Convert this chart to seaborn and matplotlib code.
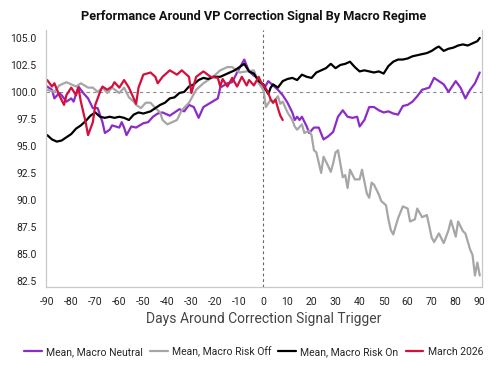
import pandas as pd
import seaborn as sns
import matplotlib.pyplot as plt

# Data (days around signal, index level)
neutral_days = [-90, -88, -87, -85, -84, -82, -80, -79, -77, -75, -73, -71, -69, -67, -66, -64, -63,
                -60, -59, -58, -57, -55, -53, -50, -48, -46, -44, -42, -39, -37, -35, -33, -31, -29,
                -27, -25, -22, -19, -18, -15, -13, -11, -8, -6, -4, -3, -1, 0, 1, 2, 4, 6, 8, 10, 12,
                13, 14, 15, 16, 18, 19, 21, 23, 25, 27, 29, 31, 33, 35, 37, 39, 40, 42, 44, 46, 48,
                50, 52, 54, 56, 58, 60, 62, 64, 66, 69, 71, 73, 75, 77, 80, 82, 84, 86, 88, 90]
neutral_vals = [100.5, 100.2, 99.4, 99.9, 99.7, 99.1, 99.4, 99.1, 100.5, 99.9, 99.4, 98.5, 98.5, 97.2,
                96.2, 96.5, 96.9, 96.7, 97.2, 96.7, 96.0, 96.8, 96.7, 97.1, 97.2, 97.7, 98.0, 98.1,
                97.8, 98.1, 98.4, 98.2, 98.8, 98.6, 97.6, 98.6, 99.0, 99.4, 100.4, 100.8, 100.9,
                101.8, 103.0, 101.9, 101.5, 101.4, 100.6, 100.2, 100.6, 101.0, 100.6, 100.2, 99.7,
                99.0, 98.1, 97.4, 97.7, 97.4, 97.7, 96.8, 96.2, 96.7, 96.7, 95.6, 95.9, 96.3, 97.7,
                98.3, 97.7, 97.6, 97.7, 96.8, 97.4, 98.6, 98.6, 98.3, 98.1, 98.2, 98.0, 97.9, 98.7,
                98.8, 99.1, 99.6, 100.2, 100.4, 101.3, 101.0, 100.7, 100.0, 101.0, 100.4, 99.4,
                100.2, 100.8, 101.8]

riskoff_days = [-90, -87, -85, -82, -80, -78, -76, -73, -71, -69, -67, -65, -63, -60, -58, -56, -54,
                -53, -51, -49, -47, -45, -43, -42, -40, -36, -34, -31, -28, -25, -21, -18, -15, -13,
                -10, -7, -4, -2, 0, 1, 3, 4, 6, 7, 8, 10, 12, 13, 14, 16, 17, 19, 20, 21, 22, 24, 25,
                27, 28, 29, 30, 31, 33, 34, 35, 36, 38, 40, 41, 43, 44, 45, 46, 48, 49, 51, 52, 53,
                54, 56, 58, 60, 61, 63, 64, 66, 68, 70, 71, 73, 75, 77, 78, 80, 81, 83, 84, 86, 87,
                88, 89, 90]
riskoff_vals = [100.2, 100.0, 100.6, 100.9, 100.7, 100.5, 100.8, 100.4, 100.4, 100.0, 100.4, 99.9,
                100.4, 99.9, 100.4, 99.5, 99.1, 98.8, 98.5, 99.0, 99.0, 98.5, 98.1, 97.4, 97.0, 97.4,
                98.3, 99.0, 100.2, 100.8, 101.4, 102.0, 102.3, 102.3, 101.8, 101.9, 102.0, 100.8,
                100.2, 98.6, 99.3, 99.0, 99.6, 98.9, 99.1, 98.1, 97.4, 96.8, 96.5, 97.0, 96.2, 96.4,
                96.0, 94.6, 94.4, 92.5, 94.0, 93.1, 92.6, 93.4, 94.4, 94.6, 92.1, 92.3, 91.1, 92.8,
                91.9, 91.9, 92.8, 90.6, 90.2, 91.6, 91.4, 90.5, 89.9, 89.5, 88.2, 87.2, 86.8, 88.3,
                89.4, 89.2, 88.0, 88.2, 89.2, 88.4, 88.6, 86.5, 86.1, 86.9, 86.0, 87.2, 88.1, 86.6,
                88.0, 87.1, 86.9, 85.4, 84.9, 83.0, 84.2, 83.0]

riskon_days = [-90, -88, -86, -84, -82, -80, -78, -76, -74, -72, -70, -68, -66, -64, -62, -60, -58,
               -56, -54, -52, -50, -47, -45, -43, -41, -39, -37, -35, -33, -31, -29, -27, -25, -23,
               -21, -18, -16, -14, -12, -10, -8, -6, -4, -2, 0, 1, 2, 3, 4, 6, 8, 10, 12, 14, 16, 18,
               20, 22, 24, 26, 28, 30, 32, 34, 36, 38, 40, 42, 44, 46, 48, 50, 52, 54, 56, 58, 60, 62,
               64, 66, 68, 70, 72, 73, 75, 77, 79, 81, 83, 85, 87, 89, 90]
riskon_vals = [96.0, 95.6, 95.4, 95.5, 95.8, 96.1, 96.6, 96.9, 97.3, 97.8, 98.1, 97.7, 97.6, 97.7,
               97.6, 97.7, 97.6, 97.4, 97.9, 98.1, 98.0, 98.2, 98.5, 98.8, 99.0, 99.4, 99.5, 99.9,
               100.0, 100.5, 100.7, 101.1, 101.3, 101.2, 101.4, 101.4, 101.6, 101.8, 102.0, 102.3,
               102.6, 101.9, 101.7, 101.0, 100.7, 100.2, 99.8, 100.4, 100.7, 100.4, 101.0, 101.2,
               101.3, 101.1, 101.6, 101.4, 101.3, 101.8, 102.0, 102.2, 102.6, 102.2, 102.5, 102.6,
               102.8, 102.3, 101.9, 102.0, 101.9, 101.8, 101.9, 101.7, 102.4, 102.8, 103.0, 103.0,
               103.1, 103.3, 103.4, 103.5, 103.6, 103.8, 104.1, 104.2, 103.8, 104.0, 104.1, 104.3,
               104.4, 104.3, 104.5, 104.7, 105.0]

march_days = [-90, -88, -87, -85, -83, -82, -80, -78, -77, -76, -74, -73, -71, -70, -68, -67, -65,
              -63, -62, -60, -58, -56, -55, -53, -52, -50, -47, -45, -44, -42, -39, -36, -34, -31,
              -30, -28, -25, -22, -19, -18, -17, -15, -13, -11, -9, -7, -6, -4, -2, -1, 0, 1, 2, 3,
              4, 5, 6, 7, 8]
march_vals = [101.1, 100.5, 100.8, 99.7, 98.8, 99.7, 100.4, 99.7, 100.4, 99.1, 97.2, 96.0, 97.2,
              98.8, 100.0, 100.5, 100.2, 100.5, 100.9, 100.4, 101.1, 100.4, 99.9, 98.9, 100.4,
              101.6, 101.8, 101.4, 100.8, 101.4, 102.0, 101.6, 102.0, 101.4, 99.9, 101.4, 101.9,
              101.4, 101.3, 100.5, 101.2, 100.5, 101.3, 100.5, 101.4, 100.6, 101.1, 100.6, 101.4,
              100.9, 100.6, 100.3, 99.9, 99.3, 99.0, 99.3, 98.5, 97.8, 97.4]

series_names = ['Mean, Macro Neutral', 'Mean, Macro Risk Off', 'Mean, Macro Risk On', 'March 2026']
series_colors = ['#8c2cc8', '#a6a6a6', '#000000', '#d40f3c']
x_ticks = list(range(-90, 91, 10))
y_ticks = [82.5, 85.0, 87.5, 90.0, 92.5, 95.0, 97.5, 100.0, 102.5, 105.0]

frames = []
for name, days, vals in zip(series_names,
                            [neutral_days, riskoff_days, riskon_days, march_days],
                            [neutral_vals, riskoff_vals, riskon_vals, march_vals]):
    frames.append(pd.DataFrame({'day': days, 'value': vals, 'series': name}))
df = pd.concat(frames, ignore_index=True)

sns.set_style('white')
plt.rcParams['font.family'] = ['Roboto', 'DejaVu Sans']

fig = plt.figure(figsize=(4.92, 3.73), dpi=100)
ax = fig.add_axes([0.0935, 0.231, 0.8865, 0.689])

sns.lineplot(data=df, x='day', y='value', hue='series', hue_order=series_names,
             palette=series_colors, estimator=None, linewidth=1.6, ax=ax)

# reference lines
ax.axvline(0, color='#666666', linestyle=(0, (2.5, 2.5)), linewidth=0.8, zorder=0)
ax.axhline(100, color='#888888', linestyle=(0, (3, 3)), linewidth=0.8, zorder=0)

ax.set_xlim(-90.5, 91)
ax.set_ylim(81.95, 105.75)
ax.set_xticks(x_ticks)
ax.set_xticklabels([str(t) for t in x_ticks])
ax.set_yticks(y_ticks)
ax.set_yticklabels([f'{t:.1f}' for t in y_ticks])
ax.tick_params(axis='both', labelsize=7.5, colors='#222222', length=4, width=0.8,
               direction='out', pad=3)
ax.tick_params(axis='both', color='#c8c8c8')
ax.set_xlabel('Days Around Correction Signal Trigger', fontsize=10, color='#444444', labelpad=4)
ax.set_ylabel('')

for side in ['left', 'bottom', 'right']:
    ax.spines[side].set_visible(True)
    ax.spines[side].set_color('#c8c8c8')
    ax.spines[side].set_linewidth(0.9)
ax.spines['top'].set_visible(False)

fig.text(0.515, 0.955, 'Performance Around VP Correction Signal By Macro Regime',
         ha='center', va='center', fontsize=9.2, fontweight='bold', color='#111111')

handles, labels = ax.get_legend_handles_labels()
ax.get_legend().remove()
fig.legend(handles, labels, loc='center', bbox_to_anchor=(0.515, 0.058), ncol=4,
           frameon=False, fontsize=7.5, handlelength=1.7, handletextpad=0.4,
           columnspacing=0.7, borderaxespad=0)

fig.savefig('out.png', dpi=100)
